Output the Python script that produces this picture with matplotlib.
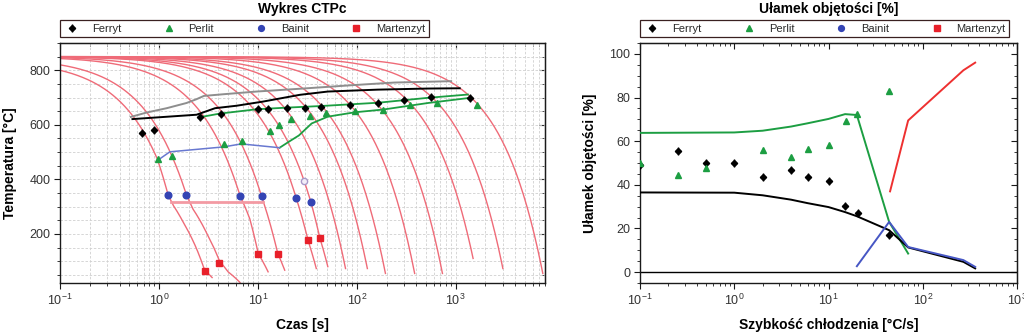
import numpy as np
import matplotlib
matplotlib.use("Agg")
import matplotlib.pyplot as plt
from matplotlib.ticker import MultipleLocator
from matplotlib.lines import Line2D

plt.rcParams["font.family"] = ["Liberation Sans", "DejaVu Sans"]

# ---------------- left: CCT diagram (time [s], temperature [C]) ----------------
# cooling curves: knots, straight in linear time
cool_t = [
    [0.1, 0.96, 1.24, 1.40, 1.76, 2.4, 2.9, 3.45],
    [0.1, 1.40, 1.9, 2.2, 3.0, 4.1, 5.0, 6.6],
    [0.1, 6.6, 8.3, 10.1, 12.7],
    [0.1, 10.9, 15.9, 18.7],
    [0.1, 24.5, 32.2, 39],
    [0.1, 34.3, 42.3, 51],
    [0.1, 77],
    [0.1, 128],
    [0.1, 195],
    [0.1, 385],
    [0.1, 735],
    [0.1, 1500],
    [0.1, 3000],
    [0.1, 7600],
]
cool_T = [
    [800, 476, 342, 304, 243, 146, 67, 40],
    [820, 473, 342, 292, 207, 100, 61, 22],
    [843, 340, 255, 128, 61],
    [846, 338, 128, 67],
    [848, 330, 176, 73],
    [848.5, 318, 186, 80],
    [849, 73],
    [849.4, 73],
    [849.6, 55],
    [849.8, 55],
    [849.9, 55],
    [850, 110],
    [850, 73],
    [850, 55],
]

ms_t = [1.34, 11.3]
ms_T = [318, 318]

gray_t = [0.52, 0.75, 1.2, 1.9, 2.4, 2.85, 4.8, 9.7, 26, 96, 240, 900]
gray_T = [629, 645, 661, 680, 694, 706, 713, 722, 732, 746, 755, 760]

black_t = [0.54, 2.4, 3.7, 6.1, 11.2, 26.6, 51, 163, 520, 1100]
black_T = [621, 637, 661, 670, 685, 710, 722, 729, 733, 734]

green_hi_t = [2.7, 4.1, 9.7, 19.5, 44, 164, 525, 1330]
green_hi_T = [629, 641, 657, 663, 669, 681, 699, 711]

green_lo_t = [16.6, 21, 26, 35, 51, 96, 185, 525, 1330]
green_lo_T = [516, 540, 561, 605, 630, 646, 656, 680, 698]

blue_t = [1.0, 1.29, 4.5, 6.8, 16.6]
blue_T = [473, 501, 519, 530, 516]

ferr_t = [0.67, 0.9, 2.6, 4.2, 10.1, 12.8, 19.5, 29.9, 44, 85, 164, 300, 568, 1410]
ferr_T = [570, 582, 629, 641, 658, 658, 661, 661, 667, 672, 680, 692, 701, 698]

perl_t = [0.98, 1.35, 4.6, 6.84, 13.2, 16.4, 21.4, 33.5, 49.4, 95.6, 185, 343, 653, 1660]
perl_T = [473, 485, 531, 540, 576, 601, 622, 633, 643, 652, 655, 673, 680, 671]

bain_t = [1.24, 1.9, 6.6, 10.9, 24.5, 34.3]
bain_T = [342, 342, 340, 338, 330, 318]
bain_open_t = [29.4]
bain_open_T = [395]

mart_t = [2.92, 4.07, 10.1, 15.9, 32.2, 42.3]
mart_T = [64, 94, 128, 128, 176, 186]

# ---------------- right: volume fraction vs cooling rate ----------------
rate_f = [0.1, 0.25, 0.5, 1, 2, 4, 6, 10, 15, 20.4, 44]
frac_f = [48.9, 55.4, 49.9, 49.9, 43.5, 47.0, 43.5, 41.6, 30.1, 27.1, 17]

rate_p = [0.1, 0.25, 0.5, 2, 4, 6, 10, 15.3, 20, 44]
frac_p = [49.9, 44.3, 47.6, 56.0, 52.6, 56.5, 58.4, 69.4, 72.5, 83]

line_f_x = [0.1, 1, 2, 4, 6, 10, 15, 20, 44, 70, 270, 360]
line_f_y = [36.5, 36.4, 35.2, 33.2, 31.6, 29.8, 27.5, 25.6, 19.2, 11.3, 4.7, 1.7]

line_p_x = [0.1, 1, 2, 4, 6, 10, 15, 20, 44, 70]
line_p_y = [63.8, 64, 64.8, 66.7, 68.2, 70.2, 72.4, 72, 23, 8.5]

line_b_x = [20, 44, 70, 270, 360]
line_b_y = [2.7, 23, 11.5, 5.5, 2.4]

line_m_x = [45, 70, 270, 360]
line_m_y = [37, 69.5, 92.5, 96]

RED_C = "#ef6b78"
GREEN = "#1c9e42"
BLUE_L = "#6878d0"
BLUE_M = "#3444b4"
RED_M = "#e8202a"
TICK_C = "#333333"

fig = plt.figure(figsize=(10.24, 3.34), dpi=100)
ax1 = fig.add_axes([60 / 1024, 51 / 334, 485 / 1024, 240 / 334])
ax2 = fig.add_axes([640 / 1024, 51 / 334, 377 / 1024, 240 / 334])


def ferr_marks(ax, x, y, **kw):
    ax.plot(x, y, ls="none", marker="|", ms=6, mew=1.0, color="black", **kw)
    ax.plot(x, y, ls="none", marker="D", ms=3.2, color="black", **kw)


# left chart
for t, T in zip(cool_t, cool_T):
    tt = np.geomspace(t[0], t[-1], 400)
    ax1.plot(tt, np.interp(tt, t, T), color=RED_C, lw=1.0, zorder=2)
ax1.plot(ms_t, ms_T, color="#f39aa3", lw=2.0, zorder=2)
ax1.plot(gray_t, gray_T, color="#8e8e8e", lw=1.4, zorder=3)
ax1.plot(black_t, black_T, color="black", lw=1.4, zorder=3)
ax1.plot(green_hi_t, green_hi_T, color=GREEN, lw=1.3, zorder=3)
ax1.plot(green_lo_t, green_lo_T, color=GREEN, lw=1.3, zorder=3)
ax1.plot(blue_t, blue_T, color=BLUE_L, lw=1.1, zorder=3)
ferr_marks(ax1, ferr_t, ferr_T, zorder=5)
ax1.plot(perl_t, perl_T, ls="none", marker="^", ms=4.5, color=GREEN, zorder=5)
ax1.plot(bain_t, bain_T, ls="none", marker="o", ms=4.8, color=BLUE_M, zorder=5)
ax1.plot(bain_open_t, bain_open_T, ls="none", marker="o", ms=4.5, mfc="#f2eef8",
         mec="#a898c8", zorder=5)
ax1.plot(mart_t, mart_T, ls="none", marker="s", ms=4.5, color=RED_M, zorder=5)

ax1.set_xscale("log")
ax1.set_xlim(0.1, 8000)
ax1.set_ylim(20, 900)
ax1.yaxis.set_major_locator(MultipleLocator(200))
ax1.yaxis.set_minor_locator(MultipleLocator(50))
ax1.grid(which="both", color="#d0d0d0", ls=(0, (3, 2)), lw=0.6)
ax1.set_axisbelow(True)

# right chart
ax2.axhline(0, color="black", lw=1.0, zorder=2)
ax2.plot(line_p_x, line_p_y, color=GREEN, lw=1.4, zorder=3)
ax2.plot(line_f_x, line_f_y, color="black", lw=1.4, zorder=3)
ax2.plot(line_b_x, line_b_y, color="#4656c4", lw=1.4, zorder=3)
ax2.plot(line_m_x, line_m_y, color="#ee3030", lw=1.4, zorder=3)
ferr_marks(ax2, rate_f, frac_f, zorder=5)
ax2.plot(rate_p, frac_p, ls="none", marker="^", ms=4.5, color=GREEN, zorder=5)

ax2.set_xscale("log")
ax2.set_xlim(0.1, 1000)
ax2.set_ylim(-5, 105)
ax2.yaxis.set_major_locator(MultipleLocator(20))
ax2.yaxis.set_minor_locator(MultipleLocator(5))

for ax, ymaj, ymin in [(ax1, 200, 50), (ax2, 20, 5)]:
    for sp in ax.spines.values():
        sp.set_color("#1a1a1a")
        sp.set_linewidth(1.0)
    ax.tick_params(which="both", direction="out", colors="#1a1a1a",
                   labelcolor=TICK_C, labelsize=9, top=False, right=False)
    ax.tick_params(which="major", length=4, pad=3)
    ax.tick_params(which="minor", length=2.5)
    top = ax.secondary_xaxis("top")
    top.tick_params(which="both", direction="in", labeltop=False, colors="#1a1a1a")
    top.tick_params(which="major", length=4)
    top.tick_params(which="minor", length=2.5)
    right = ax.secondary_yaxis("right")
    right.yaxis.set_major_locator(MultipleLocator(ymaj))
    right.yaxis.set_minor_locator(MultipleLocator(ymin))
    right.tick_params(which="both", direction="in", labelright=False, colors="#1a1a1a")
    right.tick_params(which="major", length=4)
    right.tick_params(which="minor", length=2.5)

    h_f = (Line2D([], [], ls="none", marker="|", ms=6, mew=1, color="black"),
           Line2D([], [], ls="none", marker="D", ms=3.2, color="black"))
    h_p = Line2D([], [], ls="none", marker="^", ms=4.5, color=GREEN)
    h_b = Line2D([], [], ls="none", marker="o", ms=4.2, color=BLUE_M)
    h_m = Line2D([], [], ls="none", marker="s", ms=4.2, color=RED_M)
    width = 0.76 if ax is ax1 else 0.979
    leg = ax.legend([h_f, h_p, h_b, h_m], ["Ferryt", "Perlit", "Bainit", "Martenzyt"],
                    loc="lower left", bbox_to_anchor=(0.0, 1.025, width, 0.0),
                    mode="expand", ncol=4, borderaxespad=0, fancybox=False,
                    edgecolor="#3a2020", fontsize=8, handlelength=1.6,
                    handletextpad=1.0, borderpad=0.3, framealpha=1)
    leg.get_frame().set_linewidth(0.9)
    for txt in leg.get_texts():
        txt.set_color("#2a2a2a")

fig.text(302.5 / 1024, 1 - 9 / 334, "Wykres CTPc", ha="center", va="center",
         fontsize=10, fontweight="bold")
fig.text(828.5 / 1024, 1 - 9 / 334, "Ułamek objętości [%]", ha="center", va="center",
         fontsize=10, fontweight="bold")
fig.text(302.5 / 1024, 1 - 325 / 334, "Czas [s]", ha="center", va="center",
         fontsize=10, fontweight="bold")
fig.text(828.5 / 1024, 1 - 325 / 334, "Szybkość chłodzenia [°C/s]", ha="center",
         va="center", fontsize=10, fontweight="bold")
fig.text(10 / 1024, 1 - 163 / 334, "Temperatura [°C]", ha="center", va="center",
         rotation=90, fontsize=10, fontweight="bold")
fig.text(590 / 1024, 1 - 163 / 334, "Ułamek objętości [%]", ha="center", va="center",
         rotation=90, fontsize=10, fontweight="bold")

fig.savefig("out.png", dpi=100)
